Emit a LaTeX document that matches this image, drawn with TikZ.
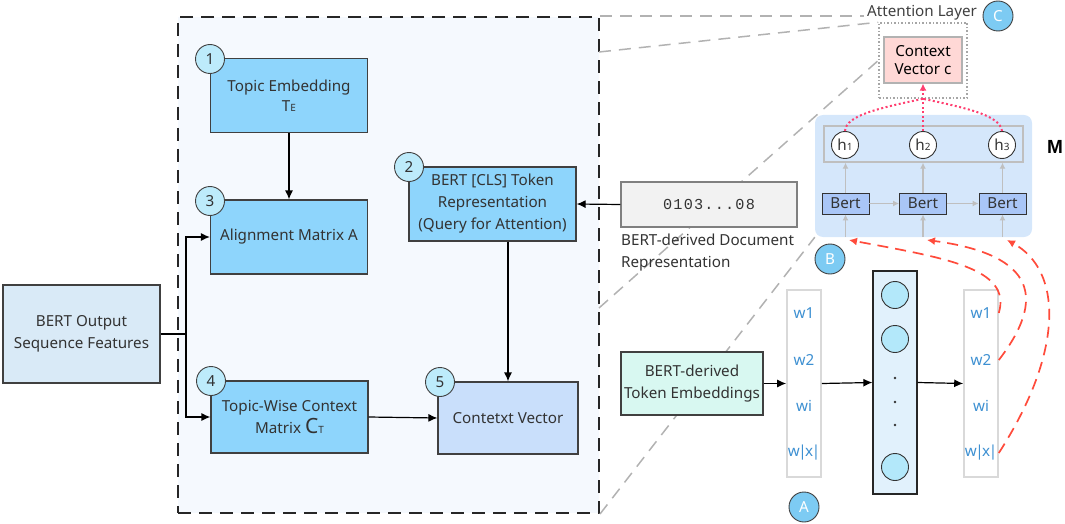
\documentclass[tikz,border=0pt]{standalone}
\usepackage{fontspec}
\setmainfont{Noto Sans}
\newfontfamily\monofont[LetterSpace=8]{Liberation Mono}
\newfontfamily\labelfont{Liberation Sans}
\usetikzlibrary{shapes,arrows.meta}

\definecolor{topicblue}{HTML}{8ED5FC}
\definecolor{numcyan}{HTML}{BDEBFB}
\definecolor{lettercyan}{HTML}{7DCBF3}
\definecolor{outblue}{HTML}{D9EAF7}
\definecolor{vecblue}{HTML}{C9DFFB}
\definecolor{framebg}{HTML}{F5F9FE}
\definecolor{docgray}{HTML}{F2F2F2}
\definecolor{mint}{HTML}{D8F8F1}
\definecolor{panelblue}{HTML}{D5E7FB}
\definecolor{bertblue}{HTML}{A9C6F7}
\definecolor{pinkbox}{HTML}{FFD8D6}
\definecolor{wordblue}{HTML}{3D90D2}
\definecolor{redline}{HTML}{FF4B3B}
\definecolor{pinkdot}{HTML}{FF3F70}
\definecolor{textgray}{HTML}{333333}
\definecolor{colblue}{HTML}{E1F1FC}
\definecolor{cellcyan}{HTML}{B3E8FA}

\tikzset{
  every node/.style={font=\fontsize{15.2}{22}\selectfont, text=textgray},
  frame/.style={draw=black!85, line width=2pt, dash pattern=on 13pt off 8pt, fill=framebg, minimum width=421pt, minimum height=496pt},
  topicbox/.style={draw=black!75, line width=1.2pt, fill=topicblue, align=center, minimum width=157pt, minimum height=74pt, inner sep=2pt},
  plainbox/.style={draw=black!75, line width=1.2pt, align=center, inner sep=2pt},
  numdot/.style={circle, draw=black!75, line width=0.9pt, fill=numcyan, minimum size=29pt, inner sep=0pt},
  letterdot/.style={circle, draw=black!75, line width=0.9pt, fill=lettercyan, text=white, minimum size=30pt, inner sep=0pt},
  wordcol/.style={draw=black!15, line width=1.6pt, fill=white, minimum width=34pt, minimum height=187pt},
  word/.style={text=wordblue},
  cell/.style={circle, draw=black!80, line width=0.9pt, fill=cellcyan, minimum size=27pt, inner sep=0pt},
  hdot/.style={circle, draw=black!80, line width=0.9pt, fill=white, minimum size=27pt, inner sep=0pt},
  bertbox/.style={draw=black!80, line width=0.9pt, fill=bertblue, minimum width=47pt, minimum height=21pt, inner sep=0pt},
  zoomline/.style={draw=black!30, line width=1.5pt, dash pattern=on 12pt off 8pt},
  grayarrow/.style={-{Latex[length=6pt,width=6pt]}, draw=black!25, line width=1.4pt},
  redarrow/.style={-{Latex[length=8pt,width=8pt]}, draw=redline, line width=1.7pt, dash pattern=on 11pt off 7pt},
  pinkarrow/.style={draw=pinkdot, line width=2pt, dash pattern=on 2pt off 2.5pt},
}
\newcommand{\smallsub}[1]{{\fontsize{10}{10}\selectfont #1}}
\newcommand{\wx}{w\kern-1.5pt|\kern-1.5pt x\kern-1.5pt|}

\begin{document}
\begin{tikzpicture}[x=1pt,y=-1pt,>={Latex[length=9pt,width=8pt]}]
\useasboundingbox (0,0) rectangle (1065,524);
\node[frame] (FRAME) at (388.5,265) {};
\node[draw=black!35, line width=1.5pt, dotted, minimum width=88pt, minimum height=75pt] (ATT) at (923,60.5) {};
\node[fill=panelblue, rounded corners=8pt, minimum width=217pt, minimum height=122pt] (PANEL) at (923.5,176) {};
\node[text=black!75] (ATTLABEL) at (922,13) {Attention Layer};
% zoom lines
\draw[zoomline] (FRAME.north east) -- (FRAME.north east -| ATTLABEL.west);
\coordinate (ZOOMA) at (599,52);
\coordinate (ZOOMB) at (599,308);
\draw[zoomline] (ZOOMA) -- (ATT.north west);
\draw[zoomline] (ZOOMB) -- (ATT.west);
\draw[zoomline] (FRAME.south east) -- (PANEL.south west);

% left part
\node[plainbox, fill=outblue, minimum width=157pt, minimum height=98pt] (BOUT) at (81.5,334) {BERT Output\\Sequence Features};
\node[topicbox] (TOPIC) at (289,95.5) {Topic Embedding\\[-2pt]T\smallsub{E}};
\node[topicbox] (ALIGN) at (289,237) {Alignment Matrix A};
\node[topicbox, minimum width=167pt] (CLS) at (492.5,204) {BERT [CLS] Token\\Representation\\(Query for Attention)};
\node[topicbox, minimum height=72pt] (TWCM) at (289.5,417) {Topic-Wise Context\\Matrix {\fontsize{21}{22}\selectfont C}\smallsub{T}};
\node[plainbox, fill=vecblue, minimum width=140pt, minimum height=72pt] (CVEC) at (508,418) {Contetxt Vector};
\node[numdot] (N1) at (210,59) {1};
\node[numdot] (N2) at (409,167) {2};
\node[numdot] (N3) at (210,201) {3};
\node[numdot] (N4) at (211,381) {4};
\node[numdot] (N5) at (440,382) {5};
\coordinate (SPLIT) at (186,334);
\draw [->, line width=1.2pt] (TOPIC) to (ALIGN);
\draw [line width=1.2pt] (BOUT.east) -- (SPLIT);
\draw [->, line width=1.2pt] (SPLIT) |- (ALIGN.west);
\draw [->, line width=1.2pt] (SPLIT) |- (TWCM.west);
\draw [->, line width=1.2pt] (TWCM.east) -- (CVEC.west);
\draw [->, line width=1.2pt] (CLS.south -| CVEC.north) -- (CVEC.north);

% document vector
\node[draw=black!50, line width=1.5pt, fill=docgray, minimum width=176pt, minimum height=45pt] (DOC) at (709,204.5) {\monofont 0103...08};
\node[anchor=north west, align=left, inner sep=0pt] (DOCTEXT) at (621,234) {BERT-derived Document\\Representation};
\draw [->, line width=1.2pt] (DOC.west) -- (CLS.east);

% token part
\node[plainbox, fill=mint, minimum width=142pt, minimum height=63pt] (TOKEMB) at (692,383.5) {BERT-derived\\Token Embeddings};
\node[wordcol] (LCOL) at (804,383.5) {};
\node[draw=black!85, line width=1.2pt, fill=colblue, minimum width=44pt, minimum height=223pt] (MCOL) at (895,382.5) {};
\node[wordcol] (RCOL) at (981,383.5) {};
\foreach \name/\y/\w in {1/313/w1, 2/360/w2, 3/406/wi, 4/453/\wx} {
  \node[word] (LW\name) at (804,\y) {\w};
  \node[word] (RW\name) at (981,\y) {\w};
}
\node[cell] (CELL1) at (895,295) {};
\node[cell] (CELL2) at (895,339) {};
\node[cell] (CELL3) at (895,467) {};
\foreach \y in {378,402,425} \fill[black!80] (895,\y) circle (1.4pt);
\draw [->, line width=1.2pt] (TOKEMB.east) -- (LCOL.west);
\draw [->, line width=1.2pt] (LCOL.east) -- (MCOL.west);
\draw [->, line width=1.2pt] (MCOL.east) -- (RCOL.west);
\node[letterdot] (LA) at (804,507) {A};
\node[letterdot] (LB) at (830,259) {B};
\node[letterdot] (LC) at (998,16) {C};

% attention panel
\node[draw=black!25, line width=1.4pt, minimum width=199pt, minimum height=36pt] (HROW) at (923.5,144) {};
\node[hdot] (H1) at (845,145) {h\smallsub{1}};
\node[hdot] (H2) at (923,145) {h\smallsub{2}};
\node[hdot] (H3) at (1002,145) {h\smallsub{3}};
\node[bertbox] (B1) at (845.5,203.5) {Bert};
\node[bertbox] (B2) at (923,203.5) {Bert};
\node[bertbox] (B3) at (1002.5,203.5) {Bert};
\node[font=\labelfont\bfseries\fontsize{19}{20}\selectfont, text=black] (MLABEL) at (1055,147) {M};
\foreach \b in {B1,B2,B3} {
  \draw[grayarrow] (\b |- PANEL.south) -- (\b.south);
  \draw[grayarrow] (\b.north) -- (\b |- HROW.south);
}
\draw[grayarrow] (B1.east) -- (B2.west);
\draw[grayarrow] (B2.east) -- (B3.west);
\node[draw=black!30, line width=1.2pt, fill=pinkbox, minimum width=78pt, minimum height=46pt, align=center, text=black] (CTX) at (923,60) {Context\\[-4pt]Vector c};
\draw[pinkarrow] (H1.north) .. controls (846,115) and (880,108) .. (ATT.south);
\draw[pinkarrow] (H3.north) .. controls (1000,115) and (966,108) .. (ATT.south);
\draw[pinkarrow, -{Latex[length=7pt,width=7pt]}] (H2.north) -- (CTX.south);

% red skip arrows
\coordinate (RIN1) at (849,240);
\coordinate (RIN2) at (927,240);
\coordinate (RIN3) at (1007,240);
\draw[redarrow] (RCOL.east |- RW1) .. controls (1012,268) and (945,258) .. (RIN1);
\draw[redarrow] (RCOL.east |- RW2) .. controls (1045,300) and (1038,255) .. (RIN2);
\draw[redarrow] (RCOL.east |- RW4) .. controls (1065,350) and (1062,270) .. (RIN3);
\end{tikzpicture}
\end{document}
